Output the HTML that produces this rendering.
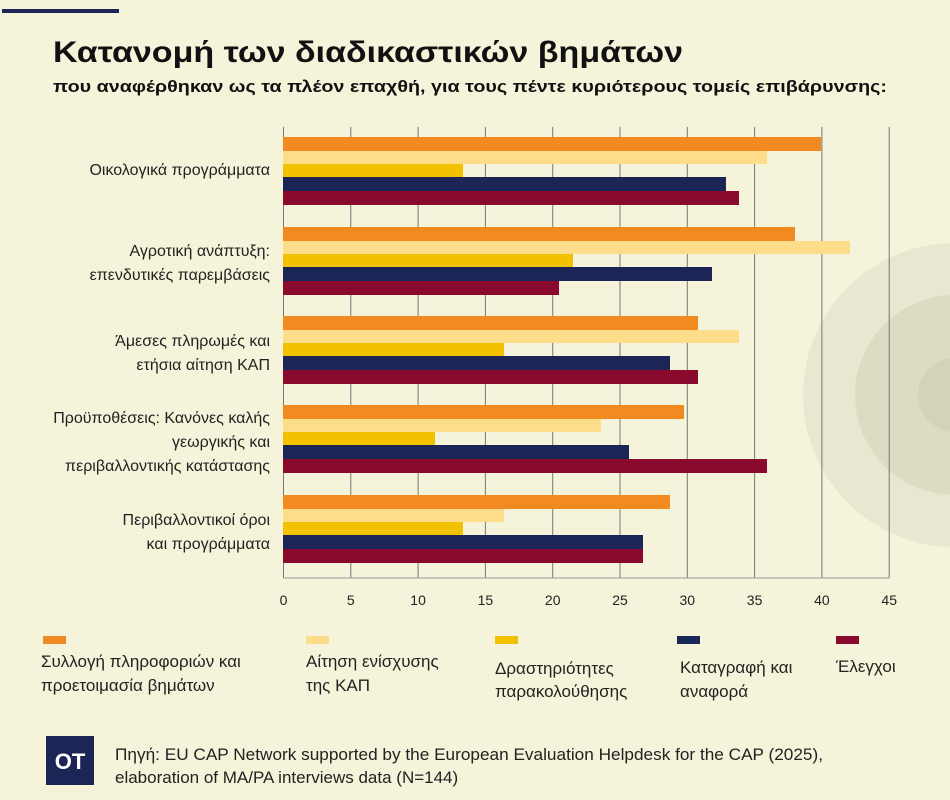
<!DOCTYPE html>
<html><head><meta charset="utf-8"><style>
html,body{margin:0;padding:0;background:#f5f3d9;}
svg{display:block;font-family:"Liberation Sans","DejaVu Sans",sans-serif;}
</style></head><body>
<svg width="950" height="800" viewBox="0 0 950 800" xmlns="http://www.w3.org/2000/svg">
<rect width="950" height="800" fill="#f5f3d9"/>
<circle cx="955" cy="395" r="152" fill="#e9e7cf"/>
<circle cx="955" cy="395" r="100" fill="#dddbc2"/>
<circle cx="955" cy="395" r="37" fill="#d4d2b9"/>
<rect x="2" y="9" width="117" height="4" fill="#1b2556"/>
<text x="53" y="62" font-size="30" font-weight="bold" fill="#111" textLength="630" lengthAdjust="spacingAndGlyphs">Κατανομή των διαδικαστικών βημάτων</text>
<text x="53" y="92" font-size="17" font-weight="bold" fill="#111" textLength="834" lengthAdjust="spacingAndGlyphs">που αναφέρθηκαν ως τα πλέον επαχθή, για τους πέντε κυριότερους τομείς επιβάρυνσης:</text>
<g stroke="#777" stroke-width="1">
<line x1="283.5" y1="127" x2="283.5" y2="578"/>
<line x1="350.8" y1="127" x2="350.8" y2="578"/>
<line x1="418.1" y1="127" x2="418.1" y2="578"/>
<line x1="485.4" y1="127" x2="485.4" y2="578"/>
<line x1="552.7" y1="127" x2="552.7" y2="578"/>
<line x1="620" y1="127" x2="620" y2="578"/>
<line x1="687.3" y1="127" x2="687.3" y2="578"/>
<line x1="754.6" y1="127" x2="754.6" y2="578"/>
<line x1="821.9" y1="127" x2="821.9" y2="578"/>
<line x1="889.2" y1="127" x2="889.2" y2="578"/>
<line x1="283" y1="578" x2="889" y2="578" stroke="#999"/>
</g>
<g>
<rect x="283" y="137" width="538" height="14" fill="#f28a22"/>
<rect x="283" y="151" width="484" height="13" fill="#fddc8a"/>
<rect x="283" y="164" width="180" height="13" fill="#f2c100"/>
<rect x="283" y="177" width="443" height="14" fill="#1b2556"/>
<rect x="283" y="191" width="456" height="14" fill="#8a0a2e"/>

<rect x="283" y="227" width="512" height="14" fill="#f28a22"/>
<rect x="283" y="241" width="567" height="13" fill="#fddc8a"/>
<rect x="283" y="254" width="290" height="13" fill="#f2c100"/>
<rect x="283" y="267" width="429" height="14" fill="#1b2556"/>
<rect x="283" y="281" width="276" height="14" fill="#8a0a2e"/>

<rect x="283" y="316" width="415" height="14" fill="#f28a22"/>
<rect x="283" y="330" width="456" height="13" fill="#fddc8a"/>
<rect x="283" y="343" width="221" height="13" fill="#f2c100"/>
<rect x="283" y="356" width="387" height="14" fill="#1b2556"/>
<rect x="283" y="370" width="415" height="14" fill="#8a0a2e"/>

<rect x="283" y="405" width="401" height="14" fill="#f28a22"/>
<rect x="283" y="419" width="318" height="13" fill="#fddc8a"/>
<rect x="283" y="432" width="152" height="13" fill="#f2c100"/>
<rect x="283" y="445" width="346" height="14" fill="#1b2556"/>
<rect x="283" y="459" width="484" height="14" fill="#8a0a2e"/>

<rect x="283" y="495" width="387" height="14" fill="#f28a22"/>
<rect x="283" y="509" width="221" height="13" fill="#fddc8a"/>
<rect x="283" y="522" width="180" height="13" fill="#f2c100"/>
<rect x="283" y="535" width="360" height="14" fill="#1b2556"/>
<rect x="283" y="549" width="360" height="14" fill="#8a0a2e"/>
</g>
<g font-size="16" fill="#222" text-anchor="end">
<text x="270" y="175">Οικολογικά προγράμματα</text>
<text x="270" y="256">Αγροτική ανάπτυξη:</text>
<text x="270" y="280">επενδυτικές παρεμβάσεις</text>
<text x="270" y="346">Άμεσες πληρωμές και</text>
<text x="270" y="370">ετήσια αίτηση ΚΑΠ</text>
<text x="270" y="423">Προϋποθέσεις: Κανόνες καλής</text>
<text x="270" y="447">γεωργικής και</text>
<text x="270" y="471">περιβαλλοντικής κατάστασης</text>
<text x="270" y="525">Περιβαλλοντικοί όροι</text>
<text x="270" y="549">και προγράμματα</text>
</g>
<g font-size="14" fill="#222" text-anchor="middle">
<text x="283.5" y="605">0</text><text x="350.8" y="605">5</text><text x="418.1" y="605">10</text>
<text x="485.4" y="605">15</text><text x="552.7" y="605">20</text><text x="620" y="605">25</text>
<text x="687.3" y="605">30</text><text x="754.6" y="605">35</text><text x="821.9" y="605">40</text>
<text x="889.2" y="605">45</text>
</g>
<rect x="43" y="636" width="23" height="8" fill="#f28a22"/>
<rect x="306" y="636" width="23" height="8" fill="#fddc8a"/>
<rect x="495" y="636" width="23" height="8" fill="#f2c100"/>
<rect x="677" y="636" width="23" height="8" fill="#1b2556"/>
<rect x="836" y="636" width="23" height="8" fill="#8a0a2e"/>
<g font-size="17" fill="#222">
<text x="41" y="667">Συλλογή πληροφοριών και</text>
<text x="41" y="691">προετοιμασία βημάτων</text>
<text x="306" y="667">Αίτηση ενίσχυσης</text>
<text x="306" y="691">της ΚΑΠ</text>
<text x="495" y="674">Δραστηριότητες</text>
<text x="495" y="697">παρακολούθησης</text>
<text x="680" y="673">Καταγραφή και</text>
<text x="680" y="697">αναφορά</text>
<text x="836" y="672">Έλεγχοι</text>
</g>
<rect x="46" y="736" width="48" height="49" fill="#1b2556"/>
<text x="70" y="769" font-size="22" font-weight="bold" fill="#fff" text-anchor="middle">OT</text>
<g font-size="17" fill="#222">
<text x="115" y="760" textLength="708" lengthAdjust="spacingAndGlyphs">Πηγή: EU CAP Network supported by the European Evaluation Helpdesk for the CAP (2025),</text>
<text x="115" y="783">elaboration of MA/PA interviews data (N=144)</text>
</g>
</svg>
</body></html>
